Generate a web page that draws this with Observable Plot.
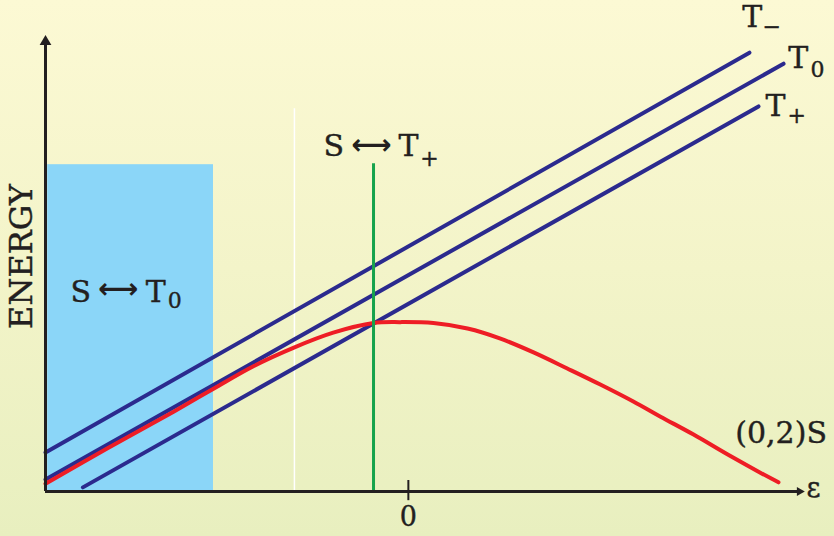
<!DOCTYPE html>
<html>
<head>
<meta charset="utf-8">
<script src="https://cdn.jsdelivr.net/npm/d3@7"></script>
<script src="https://cdn.jsdelivr.net/npm/@observablehq/plot@0.6"></script>
<style>
  html, body { margin: 0; padding: 0; }
  body { width: 834px; height: 536px; overflow: hidden;
         background: linear-gradient(to bottom, #fcf9d4 0%, #f3f4c9 50%, #e8efbf 100%); }
  svg { display: block; background: transparent !important; }
</style>
</head>
<body>
<div id="chart"></div>
<script>
// Triplet levels (straight lines) in data units: [epsilon, energy]
const tMinusLine = [[-10, 0.85], [9.40, 9.56]];
const tZeroLine  = [[-10, 0.26], [10.34, 9.32]];
const tPlusLine  = [[-8.97, 0.09], [9.65, 8.39]];

// Singlet (0,2)S curve
const singletEps = [-10, -8.29, -6.47, -5.37, -4.27, -3.17, -2.07, -0.96, -0.22, 0.69, 1.63, 2.54, 3.45, 4.38, 5.29, 6.20, 6.95, 7.86, 8.79, 9.70, 10.20];
const singletE   = [0.17, 0.94, 1.74, 2.24, 2.73, 3.13, 3.46, 3.67, 3.69, 3.67, 3.55, 3.33, 3.03, 2.68, 2.33, 1.96, 1.63, 1.24, 0.81, 0.41, 0.20];

// Region S<->T0 (shaded), crossing S<->T+ (green), white marker line
const bandT0 = [{x1: -9.94, x2: -5.37, y1: 0, y2: 7.12}];
const crossTPlus = [-0.96];
const crossTPlusTop = 7.14;
const whiteMarker = [-3.14];
const whiteMarkerTop = 8.34;

// Tick labels
const xTicks = [0];

// Text annotations (data coordinates)
const mainLabels = [
  {t: "S", x: -9.31, y: 4.12}, {t: "T", x: -7.24, y: 4.12},
  {t: "S", x: -2.34, y: 7.30}, {t: "T", x: -0.27, y: 7.30},
  {t: "T", x: 9.20, y: 10.12}, {t: "T", x: 10.47, y: 9.22}, {t: "T", x: 9.84, y: 8.19},
  {t: "(0,2)S", x: 9.01, y: 1.05}
];
const subLabels = [
  {t: "0", x: -6.63, y: 3.99}, {t: "+", x: 0.33, y: 7.10},
  {t: "\u2212", x: 9.76, y: 9.96}, {t: "0", x: 11.08, y: 9.04}, {t: "+", x: 10.45, y: 8.02}
];
const arrowLabels = [
  {t: "\u27f7", x: -8.00, y: 4.42}, {t: "\u27f7", x: -1.02, y: 7.54}
];

const singlet = singletEps.map((e, i) => ({x: e, y: singletE[i]}));
const toPts = a => a.map(([x, y]) => ({x, y}));
const ink = "#231f20";
const serif = "DejaVu Serif, serif";
const textStyle = {fill: ink, stroke: ink, strokeWidth: 0.4, fontFamily: serif};

const plot = Plot.plot({
  width: 834, height: 536,
  marginLeft: 45, marginRight: 27, marginTop: 32, marginBottom: 45,
  style: {background: "transparent", overflow: "visible"},
  x: {domain: [-10, 11], axis: null},
  y: {domain: [0, 10], axis: null},
  marks: [
    Plot.rect(bandT0, {x1: "x1", x2: "x2", y1: "y1", y2: "y2", fill: "#8bd6f8"}),
    Plot.ruleX(whiteMarker, {y1: 0, y2: whiteMarkerTop, stroke: "#ffffff", strokeWidth: 1.5}),
    Plot.line(toPts(tMinusLine), {x: "x", y: "y", stroke: "#2b2a8e", strokeWidth: 4}),
    Plot.line(toPts(tZeroLine), {x: "x", y: "y", stroke: "#2b2a8e", strokeWidth: 4}),
    Plot.line(toPts(tPlusLine), {x: "x", y: "y", stroke: "#2b2a8e", strokeWidth: 4}),
    Plot.line(singlet, {x: "x", y: "y", stroke: "#ee1d25", strokeWidth: 4, curve: "catmull-rom"}),
    Plot.ruleX(crossTPlus, {y1: 0, y2: crossTPlusTop, stroke: "#16a34c", strokeWidth: 3}),
    // axes
    Plot.ruleY([0], {x1: -10, x2: 10.76, stroke: ink, strokeWidth: 3}),
    Plot.ruleX([-10], {y1: 0, y2: 9.78, stroke: ink, strokeWidth: 3}),
    Plot.dot([{x: -10, y: 9.80}], {x: "x", y: "y", symbol: "triangle2", r: 5.6, fill: ink, stroke: null}),
    Plot.dot([{x: 10.78, y: 0}], {x: "x", y: "y", symbol: "triangle2", r: 4.4, rotate: 90, fill: ink, stroke: null}),
    Plot.ruleX(xTicks, {y1: -0.2, y2: 0.24, stroke: ink, strokeWidth: 2}),
    Plot.text(xTicks, {x: d => d, y: -0.76, text: d => String(d), lineAnchor: "bottom", fontSize: 27, ...textStyle}),
    Plot.text(["\u03b5"], {x: 10.97, y: -0.13, text: d => d, lineAnchor: "bottom", textAnchor: "start", fontSize: 27, ...textStyle}),
    Plot.text(["ENERGY"], {x: -10.36, y: 5.12, text: d => d, rotate: -90, lineAnchor: "bottom", textAnchor: "middle", fontSize: 32, ...textStyle}),
    Plot.text(mainLabels, {x: "x", y: "y", text: "t", lineAnchor: "bottom", textAnchor: "start", fontSize: 30, ...textStyle}),
    Plot.text(subLabels, {x: "x", y: "y", text: "t", lineAnchor: "bottom", textAnchor: "start", fontSize: 22, ...textStyle}),
    Plot.text(arrowLabels, {x: "x", y: "y", text: "t", lineAnchor: "middle", textAnchor: "middle", fontSize: 28, fontWeight: "bold", fontFamily: "DejaVu Sans, sans-serif", fill: ink})
  ]
});
document.getElementById("chart").appendChild(plot);
</script>
</body>
</html>
